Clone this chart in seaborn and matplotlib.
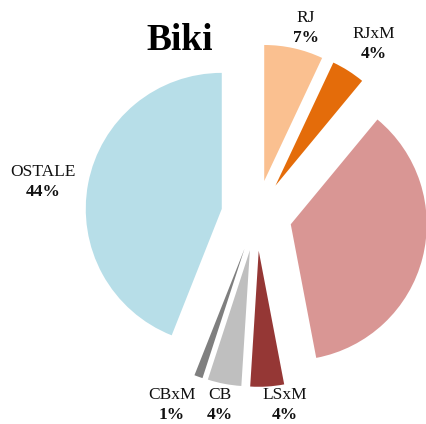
import matplotlib
matplotlib.use("Agg")
import matplotlib.pyplot as plt
from matplotlib import font_manager
import seaborn as sns

sns.set_theme(style="white")
names = sorted({f.name for f in font_manager.fontManager.ttflist})
serif_name = "DejaVu Serif"
for cand in ["Liberation Serif", "Times New Roman", "Tinos", "Nimbus Roman"]:
    if cand in names:
        serif_name = cand
        break
plt.rcParams['font.family'] = [serif_name, 'DejaVu Serif']

title = "Biki"
categories = ["RJ", "RJxM", "", "LSxM", "CB", "CBxM", "OSTALE"]
values = [7, 4, 36, 4, 4, 1, 44]
pct_labels = ["7%", "4%", "", "4%", "4%", "1%", "44%"]
colors = ["#FAC090", "#E46C0A", "#D99694", "#953735", "#BFBFBF", "#7F7F7F", "#B7DEE8"]

# label positions in figure pixels (x, y from top)
label_pos = [(306, 28), (374, 44), None, (285, 405), (220, 405), (172, 405), (43, 182)]

W, H = 426, 424
fig = plt.figure(figsize=(W / 100, H / 100), dpi=100)
ax = fig.add_axes([0, 0, 1, 1])
cx, cy, r = 256.5, 215.5, 136.0

ax.pie(values, colors=colors, startangle=90, counterclock=False,
       explode=[0.26] * len(values), radius=1.0,
       wedgeprops=dict(linewidth=0))
ax.set_xlim(-cx / r, (W - cx) / r)
ax.set_ylim(-(H - cy) / r, cy / r)
ax.set_aspect("auto")
ax.axis("off")

for cat, pct, pos in zip(categories, pct_labels, label_pos):
    if pos is None or not cat:
        continue
    x, y = pos
    fig.text(x / W, 1 - (y - 10) / H, cat, ha="center", va="center",
             fontsize=12.5, color="#111111")
    fig.text(x / W, 1 - (y + 10) / H, pct, ha="center", va="center",
             fontsize=12.5, fontweight="bold", color="#111111")

fig.text(179.5 / W, 1 - 40 / H, title, ha="center", va="center",
         fontsize=27, fontweight="bold", color="#000000")

fig.savefig("out.png", dpi=100, facecolor="white")
